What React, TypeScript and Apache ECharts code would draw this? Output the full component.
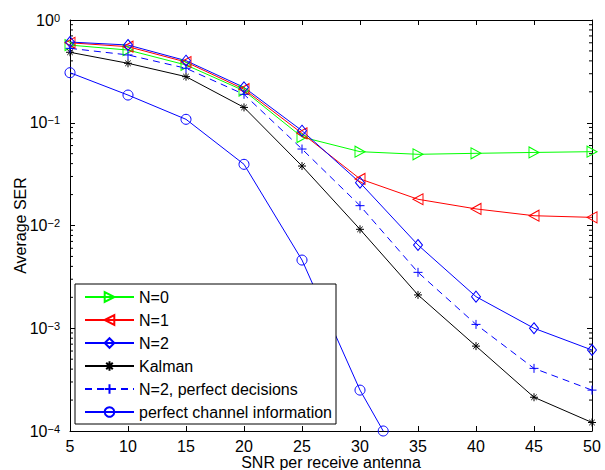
import React, { useEffect, useRef } from "react";
import * as echarts from "echarts";

const snr = [5, 10, 15, 20, 25, 30, 35, 40, 45, 50];
const serN0 = [0.57, 0.51, 0.365, 0.205, 0.0726, 0.0523, 0.0493, 0.0504, 0.0514, 0.0523];
const serN1 = [0.6, 0.55, 0.39, 0.212, 0.0789, 0.0284, 0.018, 0.0145, 0.01245, 0.012];
const serN2 = [0.61, 0.571, 0.402, 0.221, 0.0837, 0.0261, 0.00646, 0.00203, 0.001, 0.000614];
const serKalman = [0.485, 0.379, 0.281, 0.141, 0.0379, 0.00918, 0.00211, 0.00067, 0.000213, 0.000121];
const serN2pd = [0.53, 0.457, 0.339, 0.189, 0.0555, 0.0156, 0.0035, 0.00109, 0.000407, 0.00025];
const snrPci = [5, 10, 15, 20, 25, 30, 32];
const serPci = [0.307, 0.186, 0.108, 0.0394, 0.00461, 0.00025, 0.0001];

const seriesNames = [
  "N=0",
  "N=1",
  "N=2",
  "Kalman",
  "N=2, perfect decisions",
  "perfect channel information",
];

const yMin = 1e-4;
const yMax = 1;
// minor tick values between decades: 2..9 x 10^d
const minorValues: number[] = [];
for (let d = -4; d < 0; d++) {
  for (let k = 2; k <= 9; k++) minorValues.push(k * Math.pow(10, d));
}

const FONT = "'Liberation Sans', Arial, Helvetica, sans-serif";

const pair = (xs: number[], ys: number[]) => xs.map((x, i) => [x, ys[i]]);

const PLUS = "path://M5,0L5,10M0,5L10,5";
const STAR = "path://M5,0L5,10M0,5L10,5M1.6,1.6L8.4,8.4M1.6,8.4L8.4,1.6";

function mk(
  name: string,
  data: number[][],
  color: string,
  symbol: string,
  symbolSize: number | number[],
  rotate = 0,
  dashed = false
) {
  return {
    name,
    type: "line",
    data,
    symbol,
    symbolSize,
    symbolRotate: rotate,
    showAllSymbol: true,
    lineStyle: { color, width: 1, type: dashed ? [7, 5] : "solid" },
    itemStyle: { color: "rgba(0,0,0,0)", borderColor: color, borderWidth: 1 },
    emphasis: { disabled: true },
  };
}

export default function App() {
  const ref = useRef<HTMLDivElement>(null);
  useEffect(() => {
    document.body.style.margin = "0";
    if (!ref.current) return;
    const chart = echarts.init(ref.current, undefined, { renderer: "svg" });
    const axisLine = { show: true, lineStyle: { color: "#000", width: 1 } };
    const yBase = {
      type: "log",
      min: yMin,
      max: yMax,
      logBase: 10,
      splitLine: { show: false },
    };
    const option = {
      animation: false,
      backgroundColor: "#fff",
      grid: { left: 70, right: 13, top: 20, bottom: 39, containLabel: false, outerBoundsMode: "none" },
      xAxis: [
        {
          type: "value",
          min: 5,
          max: 50,
          interval: 5,
          position: "bottom",
          axisLine,
          axisTick: { inside: true, length: 5, lineStyle: { color: "#000" } },
          axisLabel: { color: "#000", fontSize: 16, lineHeight: 16, fontFamily: FONT, margin: 7 },
          splitLine: { show: false },
          name: "SNR per receive antenna",
          nameLocation: "middle",
          nameGap: 23,
          nameMoveOverlap: false,
          nameTextStyle: { color: "#000", fontSize: 16, lineHeight: 16, fontFamily: FONT },
        },
        {
          type: "value",
          min: 5,
          max: 50,
          interval: 5,
          position: "top",
          axisLine,
          axisTick: { inside: true, length: 5, lineStyle: { color: "#000" } },
          axisLabel: { show: false },
          splitLine: { show: false },
        },
      ],
      yAxis: [
        {
          ...yBase,
          position: "left",
          axisLine,
          axisTick: { inside: true, length: 5, lineStyle: { color: "#000" } },
          axisLabel: {
            color: "#000",
            fontFamily: FONT,
            margin: 10,
            formatter: (v: number) => {
              const e = Math.round(Math.log10(v));
              const s = e < 0 ? "\u2212" + Math.abs(e) : String(e);
              return "{b|10}{s|" + s + "}";
            },
            rich: {
              b: { fontSize: 16, fontFamily: FONT, color: "#000", lineHeight: 16, verticalAlign: "bottom", padding: [5, 0, 0, 0] },
              s: { fontSize: 11, fontFamily: FONT, color: "#000", lineHeight: 11, verticalAlign: "top" },
            },
          },
          name: "Average SER",
          nameLocation: "middle",
          nameGap: 42,
          nameMoveOverlap: false,
          nameTextStyle: { color: "#000", fontSize: 16, fontFamily: FONT },
        },
        {
          ...yBase,
          position: "right",
          axisLine,
          axisTick: { inside: true, length: 5, lineStyle: { color: "#000" } },
          axisLabel: { show: false },
        },
      ],
      legend: {
        orient: "vertical",
        left: 75,
        top: 284,
        data: seriesNames,
        itemWidth: 49,
        itemHeight: 12,
        itemGap: 7,
        padding: [5, 4, 4, 9],
        borderColor: "#000",
        borderWidth: 1,
        borderRadius: 0,
        backgroundColor: "#fff",
        textStyle: { color: "#000", fontSize: 16, fontFamily: FONT },
        selectedMode: false,
      },
      series: [
        {
          name: "minor ticks",
          type: "custom",
          silent: true,
          xAxisIndex: 0,
          yAxisIndex: 0,
          data: minorValues.map((v) => [5, v]),
          renderItem: (params: any, api: any) => {
            const cs = params.coordSys;
            const y = api.coord([api.value(0), api.value(1)])[1];
            const style = { stroke: "#000", lineWidth: 1 };
            return {
              type: "group",
              children: [
                { type: "line", shape: { x1: cs.x, y1: y, x2: cs.x + 3, y2: y }, style },
                { type: "line", shape: { x1: cs.x + cs.width - 3, y1: y, x2: cs.x + cs.width, y2: y }, style },
              ],
            };
          },
          z: 1,
        },
        mk(seriesNames[0], pair(snr, serN0), "#00ff00", "triangle", [11, 10], -90),
        mk(seriesNames[1], pair(snr, serN1), "#ff0000", "triangle", [11, 10], 90),
        mk(seriesNames[2], pair(snr, serN2), "#0000ff", "diamond", [9, 11]),
        mk(seriesNames[3], pair(snr, serKalman), "#000000", STAR, 8),
        mk(seriesNames[4], pair(snr, serN2pd), "#0000ff", PLUS, 9, 0, true),
        mk(seriesNames[5], pair(snrPci, serPci), "#0000ff", "circle", 10),
      ],
    };
    chart.setOption(option as any);
    return () => chart.dispose();
  }, []);
  return <div ref={ref} style={{ width: 605, height: 470 }} />;
}
